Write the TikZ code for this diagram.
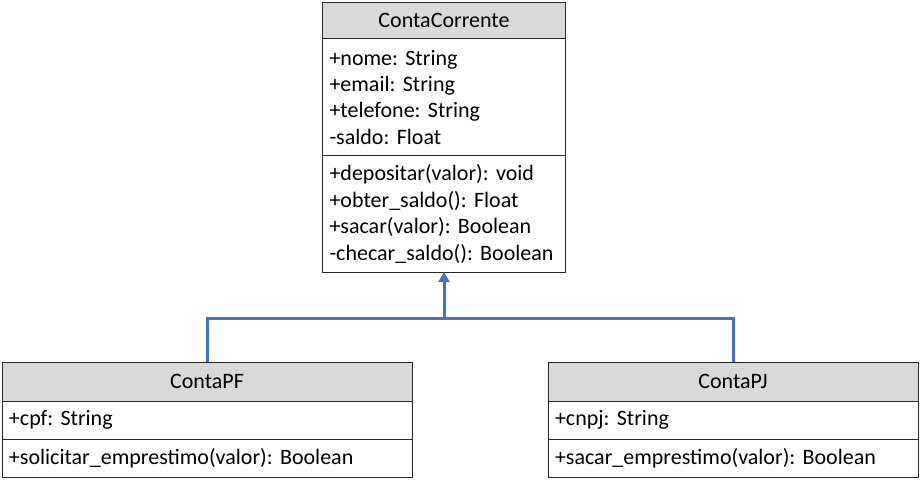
\documentclass[tikz,border=0pt]{standalone}
\usepackage{fontspec}
\setmainfont{Carlito}
\usetikzlibrary{arrows.meta,positioning}
\definecolor{hdrgray}{HTML}{D9D9D9}
\definecolor{umlblue}{HTML}{4472C4}
\definecolor{umlline}{HTML}{262626}

\begin{document}
\begin{tikzpicture}[x=1pt, y=-1pt,
      font=\fontsize{22}{26.4}\selectfont\frenchspacing,
      hdr/.style={draw=umlline, fill=hdrgray, line width=1pt, outer sep=0pt,
                  align=center, inner sep=0pt},
      sec/.style={draw=umlline, fill=white, line width=1pt, outer sep=0pt,
                  align=left, inner xsep=7pt, inner ysep=0pt},
      link/.style={line width=3pt, draw=umlblue},
      inh/.style={-{Triangle[length=10pt, width=11pt]}, line width=3pt, draw=umlblue},
    ]
    \useasboundingbox (0,0) rectangle (921,484);
    % ContaCorrente
    \node[hdr, minimum width=243pt, minimum height=35.5pt, anchor=north] (cchdr) at (444,3) {ContaCorrente};
    \node[sec, text width=229pt, minimum height=117.5pt, below=0pt of cchdr] (ccatr)
      {+nome: String\\+email: String\\+telefone: String\\-saldo: Float};
    \node[sec, text width=229pt, minimum height=116pt, below=0pt of ccatr] (ccmet)
      {+depositar(valor): void\\+obter\_saldo(): Float\\+sacar(valor): Boolean\\-checar\_saldo(): Boolean};
    % ContaPF
    \node[hdr, minimum width=410pt, minimum height=39pt, anchor=north] (pfhdr) at (207,362) {ContaPF};
    \node[sec, text width=396pt, minimum height=38pt, below=0pt of pfhdr] (pfatr) {+cpf: String};
    \node[sec, text width=396pt, minimum height=38pt, below=0pt of pfatr] (pfmet) {+solicitar\_emprestimo(valor): Boolean};
    % ContaPJ
    \node[hdr, minimum width=370pt, minimum height=39pt, anchor=north] (pjhdr) at (733,362) {ContaPJ};
    \node[sec, text width=356pt, minimum height=38pt, below=0pt of pjhdr] (pjatr) {+cnpj: String};
    \node[sec, text width=356pt, minimum height=38pt, below=0pt of pjatr] (pjmet) {+sacar\_emprestimo(valor): Boolean};
    % heranca
    \coordinate (join) at (444,318);
    \draw[link] (pfhdr.north) |- (join) -| (pjhdr.north);
    \draw[inh] (join) -- (ccmet.south);
  \end{tikzpicture}
\end{document}
